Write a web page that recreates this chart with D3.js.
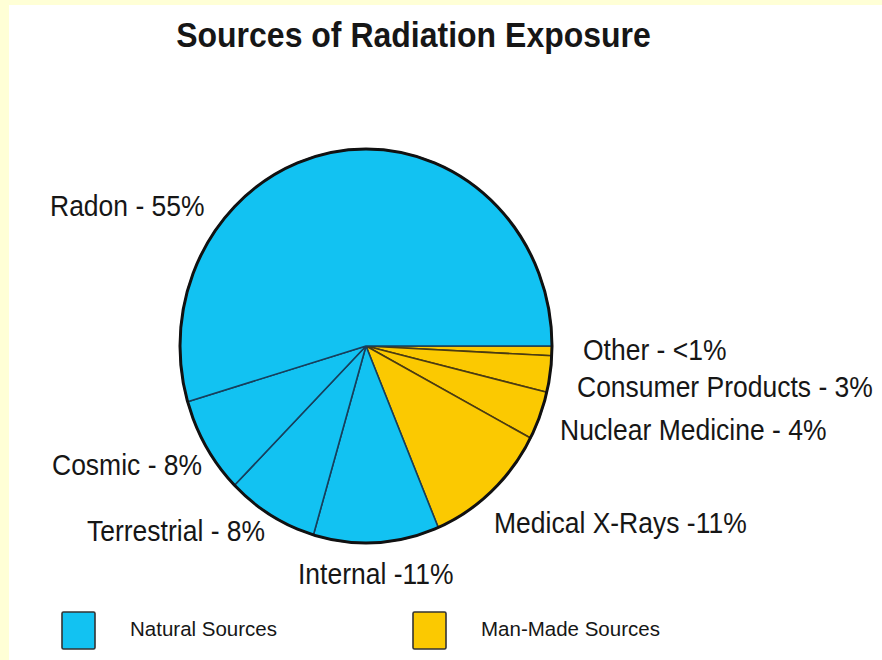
<!DOCTYPE html>
<html>
<head>
<meta charset="utf-8">
<script src="https://cdn.jsdelivr.net/npm/d3@7"></script>
<style>
  html, body { margin: 0; padding: 0; background: #ffffd6; }
  svg { display: block; }
  text { font-family: "Liberation Sans", Arial, Helvetica, sans-serif; fill: #161616; }
</style>
</head>
<body>
<svg id="chart" width="882" height="660"></svg>
<script>
// Slices listed clockwise, starting at 3 o'clock
const categories = ["Other", "Consumer Products", "Nuclear Medicine", "Medical X-Rays",
                    "Internal", "Terrestrial", "Cosmic", "Radon"];
const values = [0.8, 3, 4, 11, 11, 8, 8, 55];
const sliceLabels = ["Other - <1%", "Consumer Products - 3%", "Nuclear Medicine - 4%",
                     "Medical X-Rays -11%", "Internal -11%", "Terrestrial - 8%",
                     "Cosmic - 8%", "Radon - 55%"];
const sourceGroup = ["Man-Made", "Man-Made", "Man-Made", "Man-Made",
                     "Natural", "Natural", "Natural", "Natural"];
const legendGroups = ["Natural", "Man-Made"];
const legendLabels = ["Natural Sources", "Man-Made Sources"];

const W = 882, H = 660;
const svg = d3.select("#chart");

// pale yellow frame, white panel
svg.append("rect").attr("x", 0).attr("y", 0).attr("width", W).attr("height", H).attr("fill", "#ffffd6");
svg.append("rect").attr("x", 9).attr("y", 5).attr("width", W - 9).attr("height", H - 5).attr("fill", "#ffffff");

const color = d3.scaleOrdinal().domain(legendGroups).range(["#12c2f2", "#fbc901"]);
const edge = d3.scaleOrdinal().domain(legendGroups).range(["#173f5c", "#4a3b12"]);

// title
svg.append("text")
  .attr("transform", "translate(413.5,47) scale(1,1.12)")
  .attr("text-anchor", "middle")
  .style("font-size", "32px").style("font-weight", "bold")
  .text("Sources of Radiation Exposure");

// pie (slightly taller than wide)
const cx = 366, cy = 346, rx = 186, ry = 197;
const pie = d3.pie().sort(null).value(d => d.value)
  .startAngle(Math.PI / 2).endAngle(Math.PI / 2 + 2 * Math.PI);
const data = categories.map((c, i) => ({ cat: c, value: values[i], group: sourceGroup[i], label: sliceLabels[i] }));
const arcs = pie(data);
const arc = d3.arc().innerRadius(0).outerRadius(rx);

const g = svg.append("g").attr("transform", `translate(${cx},${cy}) scale(1,${ry / rx})`);
g.selectAll("path.slice").data(arcs).join("path")
  .attr("class", "slice")
  .attr("d", arc)
  .attr("fill", d => color(d.data.group))
  .attr("stroke", d => edge(d.data.group))
  .attr("stroke-width", 1.6)
  .attr("stroke-linejoin", "round")
  .attr("vector-effect", "non-scaling-stroke");
g.append("circle").attr("r", rx)
  .attr("fill", "none").attr("stroke", "#111").attr("stroke-width", 3)
  .attr("vector-effect", "non-scaling-stroke");

// slice label anchors (left x, baseline y)
const labelAt = {
  "Radon": [50, 216],
  "Other": [583, 360],
  "Consumer Products": [577, 397],
  "Nuclear Medicine": [560, 440],
  "Medical X-Rays": [494, 533],
  "Internal": [298, 584],
  "Terrestrial": [87, 541],
  "Cosmic": [52, 475]
};
svg.selectAll("text.slice-label").data(arcs).join("text")
  .attr("class", "slice-label")
  .attr("transform", d => `translate(${labelAt[d.data.cat][0]},${labelAt[d.data.cat][1]}) scale(1,1.1)`)
  .style("font-size", "26.5px")
  .text(d => d.data.label);

// legend
const legend = svg.append("g");
const legX = [62, 413];
const lg = legend.selectAll("g").data(legendGroups).join("g")
  .attr("transform", (d, i) => `translate(${legX[i]},612)`);
lg.append("rect").attr("width", 33).attr("height", 37).attr("rx", 1.5)
  .attr("fill", d => color(d)).attr("stroke", "#333").attr("stroke-width", 1.6);
lg.append("text")
  .attr("x", 68)
  .attr("y", 24)
  .style("font-size", "20.5px")
  .text((d, i) => legendLabels[i]);
</script>
</body>
</html>
